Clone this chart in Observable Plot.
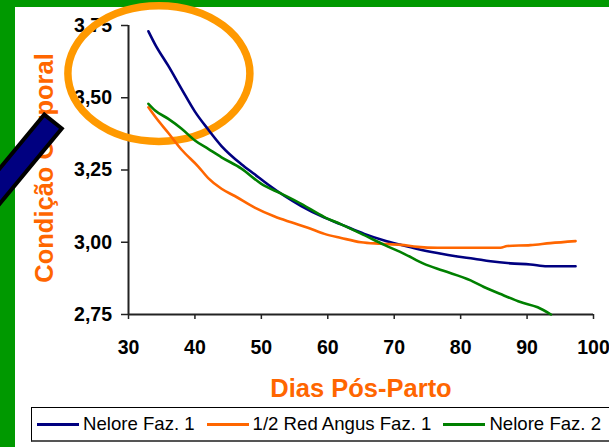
<!DOCTYPE html>
<html>
<head>
<meta charset="utf-8">
<script src="https://cdn.jsdelivr.net/npm/d3@7"></script>
<script src="https://cdn.jsdelivr.net/npm/@observablehq/plot@0.6"></script>
<style>
  html, body { margin: 0; padding: 0; background: #fff; overflow: hidden; }
  #page { position: relative; width: 609px; height: 447px; overflow: hidden;
          font-family: "Liberation Sans", Arial, sans-serif; }
  .band-top { position: absolute; left: 0; top: 0; width: 609px; height: 7px; background: #009900; }
  .band-left { position: absolute; left: 0; top: 0; width: 15px; height: 447px; background: #009900; }
  #chart { position: absolute; left: 0; top: 0; }
  #legend { position: absolute; left: 31px; top: 407px; height: 35px; width: 640px;
            box-sizing: border-box; border: 1px solid #000; border-bottom: 2px solid #555; border-right: none;
            display: flex; align-items: center; padding-left: 5px; gap: 12px;
            white-space: nowrap; font-size: 18.6px; color: #000; background: #fff; }
  .item { display: flex; align-items: center; }
  .swatch { width: 42px; height: 3px; margin-right: 4px; }
</style>
</head>
<body>
<div id="page">
  <div class="band-top"></div>
  <div class="band-left"></div>
  <div id="chart"></div>
  <div id="legend"></div>
</div>
<script>
// Axis ticks and titles
const xTicks = [30, 40, 50, 60, 70, 80, 90, 100];
const yTicks = [2.75, 3.00, 3.25, 3.50, 3.75];
const xTitle = "Dias Pós-Parto";
const yTitle = "Condição Corporal";

// Series names and colours
const seriesNames = ["Nelore Faz. 1", "1/2 Red Angus Faz. 1", "Nelore Faz. 2"];
const seriesColors = ["#000080", "#FF6600", "#008000"];

// Body condition score by days post-partum: [dia, condição]
const neloreFaz1 = [
  [33, 3.73], [34, 3.685], [36, 3.61], [38, 3.53], [40, 3.452], [42, 3.39], [44, 3.333],
  [47, 3.27], [49, 3.235], [51, 3.20], [53.5, 3.16], [56, 3.125], [59.5, 3.085], [62, 3.062],
  [65.5, 3.029], [68.5, 3.006], [71, 2.991], [73.5, 2.977], [76.5, 2.963], [79.5, 2.951],
  [82, 2.943], [84.5, 2.934], [87.5, 2.927], [90.5, 2.923], [93, 2.917], [97.3, 2.917]
];
const redAngusFaz1 = [
  [33, 3.467], [34, 3.435], [36, 3.378], [38, 3.32], [40.5, 3.262], [42, 3.222], [44, 3.185],
  [46, 3.16], [49, 3.12], [52, 3.089], [54.5, 3.069], [57, 3.05], [59.5, 3.029], [62, 3.015],
  [65, 3.0], [68, 2.995], [71, 2.991], [73.5, 2.984], [76.5, 2.981], [83, 2.981], [86, 2.981],
  [87, 2.987], [90.5, 2.99], [93.5, 2.997], [97.3, 3.004]
];
const neloreFaz2 = [
  [33, 3.479], [34, 3.456], [36, 3.427], [38, 3.393], [40, 3.352], [42, 3.323], [44, 3.294],
  [47, 3.255], [50, 3.202], [53, 3.168], [56, 3.133], [59.5, 3.087], [62, 3.062], [65, 3.03],
  [68.5, 2.991], [71.5, 2.96], [74.5, 2.925], [77.3, 2.902], [81.5, 2.868], [83.5, 2.845],
  [86.5, 2.816], [89, 2.793], [91.6, 2.775], [93.6, 2.75]
];

// Highlight ring around the first weeks, and the pointer bar (data units)
const ringCenter = [34.65, 3.582];
const ringRadius = [13.7, 0.235];
const pointerCorners = [[17.40, 3.440], [20.03, 3.392], [7.57, 3.045], [4.94, 3.094]];

const rows = [neloreFaz1, redAngusFaz1, neloreFaz2].flatMap((pts, i) =>
  pts.map(([dia, cc]) => ({serie: seriesNames[i], dia, cc}))
);

const fmtY = d => d.toFixed(2).replace(".", ",");

const chart = Plot.plot({
  width: 609,
  height: 400,
  marginLeft: 128,
  marginRight: 16,
  marginTop: 25,
  marginBottom: 86,
  style: {
    background: "transparent",
    fontFamily: "'Liberation Sans', Arial, sans-serif",
    fontWeight: "bold",
    color: "#000",
    overflow: "visible"
  },
  x: {domain: [30, 100]},
  y: {domain: [2.75, 3.75]},
  color: {domain: seriesNames, range: seriesColors},
  marks: [
    Plot.axisY({ticks: yTicks, tickSize: 7, tickPadding: 9.5, tickFormat: fmtY,
                fontSize: 19.5, label: null, stroke: "#222", strokeWidth: 1.5}),
    Plot.axisX({ticks: xTicks, tickSize: 5, tickPadding: 21, tickFormat: d => String(d),
                fontSize: 19.5, label: null, stroke: "#222", strokeWidth: 1.5}),
    Plot.ruleX([30], {stroke: "#222", strokeWidth: 2}),
    Plot.ruleY([2.75], {stroke: "#222", strokeWidth: 2}),
    Plot.line(rows, {x: "dia", y: "cc", z: "serie", stroke: "serie", strokeWidth: 2.6,
                     curve: "monotone-x"}),
    Plot.text([yTitle], {text: d => d, frameAnchor: "left", textAnchor: "middle", rotate: -90,
                         dx: -76, dy: -2, lineAnchor: "bottom", fill: "#FF6600", fontSize: 25.5}),
    Plot.text([xTitle], {text: d => d, frameAnchor: "bottom", textAnchor: "middle",
                         lineAnchor: "bottom", dy: 82.5, fill: "#FF6600", fontSize: 25.5})
  ]
});

// Annotations drawn through the chart's own scales
const sx = chart.scale("x"), sy = chart.scale("y");
const svg = d3.select(chart);
const cx = sx.apply(ringCenter[0]), cy = sy.apply(ringCenter[1]);
svg.insert("ellipse", 'g[aria-label="line"]')
  .attr("cx", cx).attr("cy", cy)
  .attr("rx", sx.apply(ringCenter[0] + ringRadius[0]) - cx)
  .attr("ry", sy.apply(ringCenter[1] - ringRadius[1]) - cy)
  .attr("fill", "none").attr("stroke", "#FF9900").attr("stroke-width", 7.5);
svg.append("polygon")
  .attr("points", pointerCorners.map(([d, c]) => `${sx.apply(d)},${sy.apply(c)}`).join(" "))
  .attr("fill", "#000080").attr("stroke", "#000").attr("stroke-width", 4)
  .attr("stroke-linejoin", "miter");

document.getElementById("chart").append(chart);

// Legend
const legend = d3.select("#legend");
seriesNames.forEach((name, i) => {
  const item = legend.append("div").attr("class", "item");
  item.append("div").attr("class", "swatch").style("background", seriesColors[i]);
  item.append("span").text(name);
});
</script>
</body>
</html>
